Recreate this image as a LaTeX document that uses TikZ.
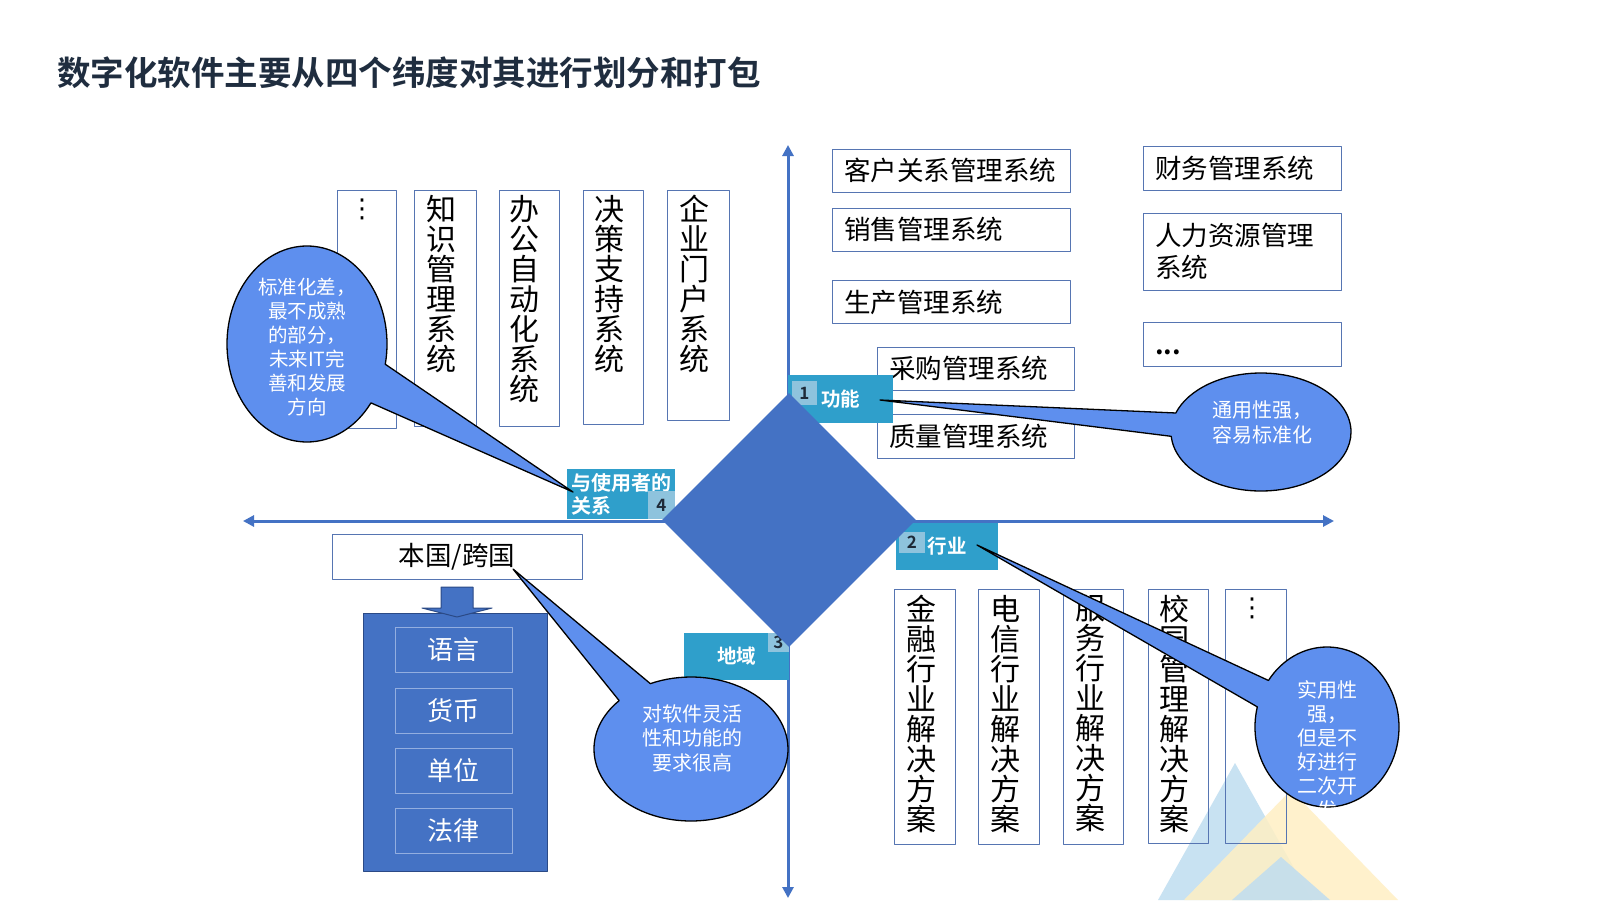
\documentclass[tikz,border=0pt]{standalone}
\usepackage{fontspec}
\setmainfont{Noto Sans CJK SC}[BoldFont={Noto Sans CJK SC Bold}]
\newfontfamily\symfont{DejaVu Sans}
\usetikzlibrary{arrows.meta,shapes.geometric,shapes.callouts}

\definecolor{axisblue}{HTML}{4472C4}
\definecolor{boxline}{HTML}{5675B2}
\definecolor{tagblue}{HTML}{2F9FCB}
\definecolor{tagnum}{HTML}{8EC3DD}
\definecolor{tagdark}{HTML}{1E2A38}
\definecolor{bubblefill}{HTML}{5E8FEE}
\definecolor{titleblue}{HTML}{1F2D3F}
\definecolor{panelline}{HTML}{2B4A86}
\definecolor{subline}{HTML}{93AEE0}
\definecolor{triblue}{HTML}{BFDDF0}
\definecolor{triyellow}{HTML}{FFEFC4}

\tikzset{
  axis/.style={line width=3pt, draw=axisblue, {Triangle[length=11pt,width=11pt]}-{Triangle[length=11pt,width=11pt]}},
  vbox/.style={draw=boxline, line width=1pt, inner sep=0pt},
  vtext/.style={anchor=north, align=center, inner sep=0pt, font=\fontsize{30}{30}\selectfont},
  hbox/.style={draw=boxline, line width=1pt, align=left, inner xsep=12pt, inner ysep=0pt, font=\fontsize{26.5}{32}\selectfont},
  tag/.style={fill=tagblue, text=white, inner sep=0pt, font=\bfseries\fontsize{19.5}{23}\selectfont},
  tagno/.style={fill=tagnum, text=tagdark, inner sep=0pt, font=\bfseries\fontsize{17}{17}\selectfont},
  bubble/.style={ellipse callout, draw=black, line width=1.3pt, fill=bubblefill, inner sep=0pt, callout pointer arc=23},
  bubtext/.style={text=white, align=center, inner sep=0pt},
  subbox/.style={draw=subline, line width=1pt, text=white, minimum width=117pt, minimum height=45pt, font=\fontsize{26}{26}\selectfont},
}

\begin{document}
\begin{tikzpicture}[x=1pt, y=-1pt, line join=round]
  \useasboundingbox (0,0) rectangle (1600,900);
  \fill[white] (0,0) rectangle (1600,900);
  % corner decoration
  \fill[triblue, opacity=0.85] (1235,763) -- (1312,900) -- (1158,900) -- cycle;
  \fill[triyellow, opacity=0.85] (1291,790) -- (1398,900) -- (1184,900) -- cycle;
  \fill[triblue, opacity=0.85] (1281,857) -- (1330,900) -- (1232,900) -- cycle;

  % axes
  \coordinate (ytop) at (788,145);
  \coordinate (ybot) at (788,898);
  \coordinate (xleft) at (243,521);
  \coordinate (xright) at (1334,521);
  \draw[axis] (ybot) -- (ytop);
  \draw[axis] (xleft) -- (xright);

  \node[anchor=west, inner sep=0pt, text=titleblue, font=\bfseries\fontsize{33.5}{40}\selectfont] (title) at (57,73) {数字化软件主要从四个纬度对其进行划分和打包};

  % relation with users
  \node[vbox, minimum width=59pt, minimum height=238pt] (umore) at (366.5,309) {};
  \node[vtext, font=\symfont\fontsize{26}{26}\selectfont] at (362,199) {⋮};
  \node[vbox, minimum width=62pt, minimum height=236pt] (km) at (445,308) {};
  \node[vtext] at (441,195) {知\\识\\管\\理\\系\\统};
  \node[vbox, minimum width=60pt, minimum height=236pt] (oa) at (529,308) {};
  \node[vtext] at (524,195) {办\\公\\自\\动\\化\\系\\统};
  \node[vbox, minimum width=60pt, minimum height=234pt] (dss) at (613,307) {};
  \node[vtext] at (609,195) {决\\策\\支\\持\\系\\统};
  \node[vbox, minimum width=62pt, minimum height=230pt] (eip) at (698,305) {};
  \node[vtext] at (694,195) {企\\业\\门\\户\\系\\统};

  % function
  \node[hbox, text width=214pt, minimum height=43pt] (crm) at (951,170.5) {客户关系管理系统};
  \node[hbox, text width=214pt, minimum height=43pt] (sales) at (951,229.5) {销售管理系统};
  \node[hbox, text width=214pt, minimum height=43pt] (prod) at (951,302) {生产管理系统};
  \node[hbox, text width=173pt, minimum height=43pt] (purch) at (975.5,368.5) {采购管理系统};
  \node[hbox, text width=173pt, minimum height=44pt] (qual) at (975.5,436) {质量管理系统};
  \node[hbox, text width=174pt, minimum height=44pt] (acct) at (1242,168) {财务管理系统};
  \node[hbox, text width=174pt, minimum height=77pt] (hr) at (1242,251.5) {人力资源管理\\系统};
  \node[hbox, text width=174pt, minimum height=44pt] (fmore) at (1242,344) {\vphantom{系}\bfseries ...};

  % industry
  \node[vbox, minimum width=61pt, minimum height=255pt] (fin) at (924.5,716.5) {};
  \node[vtext] at (921,595) {金\\融\\行\\业\\解\\决\\方\\案};
  \node[vbox, minimum width=61pt, minimum height=255pt] (tel) at (1008.5,716.5) {};
  \node[vtext] at (1005,595) {电\\信\\行\\业\\解\\决\\方\\案};
  \node[vbox, minimum width=60pt, minimum height=255pt] (srv) at (1093,716.5) {};
  \node[vtext] at (1090,595) {服\\务\\行\\业\\解\\决\\方\\案};
  \node[vbox, minimum width=60pt, minimum height=254pt] (cam) at (1178,716) {};
  \node[vtext] at (1174,595) {校\\园\\管\\理\\解\\决\\方\\案};
  \node[vbox, minimum width=61pt, minimum height=254pt] (imore) at (1255.5,716) {};
  \node[vtext, font=\symfont\fontsize{26}{26}\selectfont] at (1252,598) {⋮};

  % region
  \node[draw=boxline, line width=1pt, minimum width=250pt, minimum height=45pt, font=\fontsize{26.5}{26}\selectfont] (nation) at (457,556.5) {本国/跨国};
  \node[fill=axisblue, draw=panelline, line width=1pt, minimum width=184pt, minimum height=258pt] (panel) at (455,742) {};
  \draw[fill=axisblue, draw=panelline, line width=1pt] (441,587) -- (473,587) -- (473,608) -- (492,608) -- (457,617) -- (422,608) -- (441,608) -- cycle;
  \node[subbox] (lang) at (453.5,649.5) {语言};
  \node[subbox] (money) at (453.5,710.5) {货币};
  \node[subbox] (unit) at (453.5,770.5) {单位};
  \node[subbox] (law) at (453.5,830.5) {法律};

  % tags of the four dimensions
  \node[tag, minimum width=105pt, minimum height=48pt] (tagfn) at (840.5,399) {功能};
  \node[tagno, minimum width=25pt, minimum height=24pt] at (804.5,393) {1};
  \node[tag, minimum width=102pt, minimum height=47pt] (tagind) at (947,546.5) {行业};
  \node[tagno, minimum width=26pt, minimum height=21pt] at (912,542.5) {2};
  \node[tag, minimum width=105pt, minimum height=47pt] (tagreg) at (736.5,656.5) {地域};
  \node[tagno, minimum width=21pt, minimum height=19pt] at (778.5,642.5) {3};
  \node[tag, align=left, minimum width=108pt, minimum height=50pt, font=\bfseries\fontsize{20}{23}\selectfont] (taguser) at (621,494) {与使用者的\\关系};
  \node[tagno, minimum width=27pt, minimum height=28pt] at (661.5,505) {4};

  \node[diamond, fill=axisblue, inner sep=0pt, minimum width=254pt, minimum height=254pt] (core) at (789,520) {};

  % callouts
  \coordinate (tip1) at (573,492);
  \coordinate (tip2) at (880,400);
  \coordinate (tip3) at (513,569);
  \coordinate (tip4) at (977,545);
  \node[bubble, minimum width=160pt, minimum height=196pt, callout absolute pointer={(tip1)}, callout pointer arc=25] (bub1) at (307,344) {};
  \node[bubtext, font=\fontsize{19.5}{24}\selectfont] at (307,347) {标准化差，\\最不成熟\\的部分，\\未来IT完\\善和发展\\方向};
  \node[bubble, minimum width=180pt, minimum height=118pt, callout absolute pointer={(tip2)}] (bub2) at (1261,432) {};
  \node[bubtext, font=\fontsize{20}{25}\selectfont] at (1262,422) {通用性强，\\容易标准化};
  \node[bubble, minimum width=194pt, minimum height=144pt, callout absolute pointer={(tip3)}] (bub3) at (691,749) {};
  \node[bubtext, font=\fontsize{20}{24.5}\selectfont] at (692,738) {对软件灵活\\性和功能的\\要求很高};
  \node[bubble, minimum width=144pt, minimum height=160pt, callout absolute pointer={(tip4)}, callout pointer arc=21] (bub4) at (1327,727) {};
  \node[bubtext, font=\fontsize{20}{24}\selectfont] at (1327,750) {实用性\\强，\\但是不\\好进行\\二次开\\发};
\end{tikzpicture}
\end{document}
